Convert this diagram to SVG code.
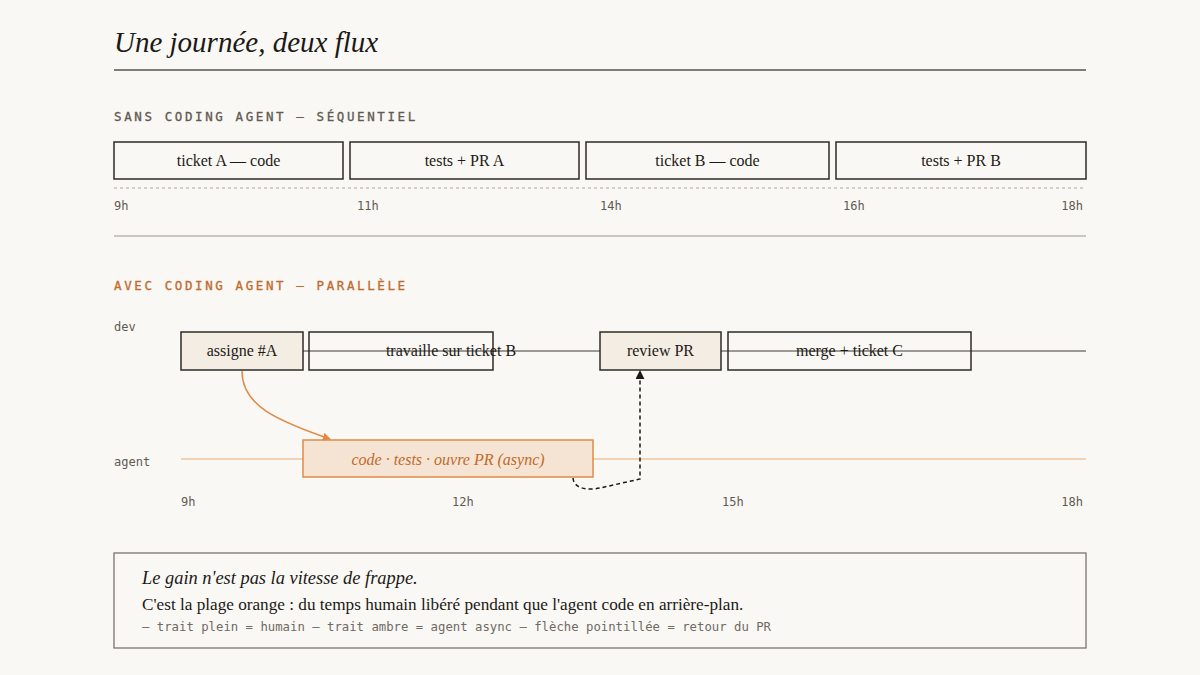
<svg xmlns="http://www.w3.org/2000/svg" width="1200" height="675" viewBox="0 0 1200 675">
<defs>
<style>
.title{font-family:"Liberation Serif",serif;font-style:italic;font-size:29px;fill:#1c1a17}
.sec{font-family:"DejaVu Sans Mono","Liberation Mono",monospace;font-size:12.5px;letter-spacing:2.6px;stroke-width:0.3px}
.mono{font-family:"DejaVu Sans Mono","Liberation Mono",monospace;font-size:12px;fill:#5f5a52}
.lbl{font-family:"Liberation Serif",serif;font-size:16px;fill:#1c1a17;text-anchor:middle}
.box{fill:none;stroke:#2e2b27;stroke-width:1.5}
.boxf{fill:#f4ede3;stroke:#2e2b27;stroke-width:1.5}
.rule{stroke:#9a968f;stroke-width:1.2}
</style>
<marker id="ao" viewBox="0 0 10 10" refX="9" refY="5" markerWidth="8" markerHeight="8" orient="auto-start-reverse" markerUnits="userSpaceOnUse"><path d="M0,0 L10,5 L0,10 z" fill="#e08a45"/></marker>
<marker id="ak" viewBox="0 0 10 10" refX="9" refY="5" markerWidth="9" markerHeight="9" orient="auto-start-reverse" markerUnits="userSpaceOnUse"><path d="M0,0 L10,5 L0,10 z" fill="#1c1a17"/></marker>
</defs>
<rect width="1200" height="675" fill="#faf8f4"/>
<text class="title" x="114" y="52">Une journée, deux flux</text>
<line x1="114" y1="70" x2="1086" y2="70" stroke="#555" stroke-width="1.3"/>

<text class="sec" x="114" y="121" fill="#5f5a52" stroke="#5f5a52">SANS CODING AGENT — SÉQUENTIEL</text>
<g id="seq-a-code"><rect class="box" x="114" y="142" width="229" height="37"/><text class="lbl" x="228.5" y="166">ticket A — code</text></g>
<g id="seq-a-tests"><rect class="box" x="350" y="142" width="229" height="37"/><text class="lbl" x="464.5" y="166">tests + PR A</text></g>
<g id="seq-b-code"><rect class="box" x="586" y="142" width="243" height="37"/><text class="lbl" x="707.5" y="166">ticket B — code</text></g>
<g id="seq-b-tests"><rect class="box" x="836" y="142" width="250" height="37"/><text class="lbl" x="961" y="166">tests + PR B</text></g>
<line x1="114" y1="188" x2="1086" y2="188" stroke="#aaa59d" stroke-width="1.2" stroke-dasharray="3 3"/>
<g class="mono">
<text x="114" y="210">9h</text>
<text x="357" y="210">11h</text>
<text x="600" y="210">14h</text>
<text x="843" y="210">16h</text>
<text x="1083" y="210" text-anchor="end">18h</text>
</g>
<line class="rule" x1="114" y1="236" x2="1086" y2="236"/>

<text class="sec" x="114" y="290" fill="#c06a2b" stroke="#c06a2b">AVEC CODING AGENT — PARALLÈLE</text>
<text class="mono" x="114" y="331">dev</text>
<text class="mono" x="114" y="466">agent</text>
<line x1="181" y1="351" x2="1086" y2="351" stroke="#7d7973" stroke-width="1.3"/>
<line x1="181" y1="459" x2="1086" y2="459" stroke="#f0c4a0" stroke-width="1.5"/>

<g id="dev-assigne"><rect class="boxf" x="181" y="332" width="122" height="38"/><text class="lbl" x="242" y="356" font-size="15">assigne #A</text></g>
<g id="dev-ticketB"><rect class="box" x="309" y="332" width="184" height="38"/><text class="lbl" x="451" y="356" font-size="15">travaille sur ticket B</text></g>
<g id="dev-review"><rect class="boxf" x="600" y="332" width="121" height="38"/><text class="lbl" x="660.5" y="356" font-size="14">review PR</text></g>
<g id="dev-merge"><rect class="box" x="728" y="332" width="243" height="38"/><text class="lbl" x="849.5" y="356" font-size="15">merge + ticket C</text></g>

<g id="agent-task"><rect x="303" y="440" width="290" height="37" fill="#f5e4d4" stroke="#e08a45" stroke-width="1.5"/><text x="448" y="465" font-family="Liberation Serif,serif" font-style="italic" font-size="16" fill="#c06a2b" text-anchor="middle">code · tests · ouvre PR (async)</text></g>

<g id="connectors">
<path d="M242,371 C242,405 275,420 330,439" fill="none" stroke="#e08a45" stroke-width="1.5" marker-end="url(#ao)"/>
<path d="M573,478 C574,490 590,490 600,488 L640,479 L640,371" fill="none" stroke="#1c1a17" stroke-width="1.5" stroke-dasharray="4 3" marker-end="url(#ak)"/>
</g>

<g class="mono">
<text x="181" y="506">9h</text>
<text x="452" y="506">12h</text>
<text x="722" y="506">15h</text>
<text x="1083" y="506" text-anchor="end">18h</text>
</g>

<g id="note">
<rect x="114" y="553" width="972" height="95" fill="none" stroke="#6e6a64" stroke-width="1.2"/>
<text x="142" y="584" font-family="Liberation Serif,serif" font-style="italic" font-size="18.4" fill="#1c1a17">Le gain n'est pas la vitesse de frappe.</text>
<text x="142" y="610" font-family="Liberation Serif,serif" font-size="17.2" fill="#1c1a17">C'est la plage orange : du temps humain libéré pendant que l'agent code en arrière-plan.</text>
<text x="142" y="631" font-family="DejaVu Sans Mono,Liberation Mono,monospace" font-size="12" fill="#6e6a64" textLength="629" lengthAdjust="spacingAndGlyphs">— trait plein = humain — trait ambre = agent async — flèche pointillée = retour du PR</text>
</g>
</svg>
